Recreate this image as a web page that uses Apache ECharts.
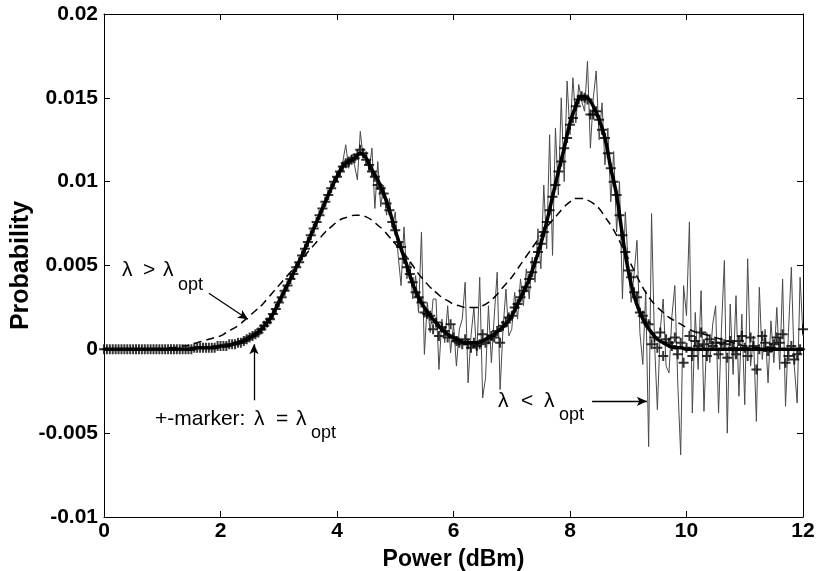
<!DOCTYPE html>
<html>
<head>
<meta charset="utf-8">
<script src="https://cdn.jsdelivr.net/npm/echarts@6/dist/echarts.min.js"></script>
<style>
  html, body { margin: 0; padding: 0; background: #fff; }
  #chart { width: 818px; height: 571px; }
</style>
</head>
<body>
<div id="chart"></div>
<script>
// x grids: fine for the +-markers and the noisy curve, coarse for the smooth ones
const fineStep = 0.05;
const coarseStep = 0.1;

// lambda = lambda_opt, smooth thick line (0.1 dBm step)
const probOpt = [
  0, 0, 0, 0, 0, 0, 0, 0, 0, 0,
  0, 0, 0, 0, 0, 0, 0.0001, 0.0001, 0.0001, 0.0001,
  0.0002, 0.0002, 0.0003, 0.0004, 0.0005, 0.0007, 0.0009, 0.0012, 0.0016, 0.0021,
  0.0028, 0.0035, 0.0042, 0.0049, 0.0056, 0.0064, 0.0072, 0.0080, 0.0088, 0.0096,
  0.0103, 0.0109, 0.0112, 0.0114, 0.0117, 0.0114, 0.0107, 0.0101, 0.0093, 0.0083,
  0.0071, 0.0060, 0.0050, 0.0039, 0.0031, 0.0025, 0.0020, 0.0016, 0.0012, 0.0009,
  0.0007, 0.0005, 0.0004, 0.0004, 0.0004, 0.0005, 0.0007, 0.0009, 0.0012, 0.0015,
  0.0020, 0.0027, 0.0034, 0.0042, 0.0052, 0.0063, 0.0076, 0.0091, 0.0106, 0.0120,
  0.0135, 0.0145, 0.0151, 0.0150, 0.0145, 0.0137, 0.0126, 0.0108, 0.0092, 0.0068,
  0.0047, 0.0032, 0.0022, 0.0015, 0.0010, 0.0006, 0.0004, 0.0002, 0.0001, 0.0001,
  0, 0, 0, 0, 0, 0, 0, 0, 0, 0,
  0, 0, 0, 0, 0, 0, 0, 0, 0, 0,
  0
];

// lambda > lambda_opt, dashed line (0.1 dBm step)
const probHigh = [
  0, 0, 0, 0, 0, 0, 0, 0, 0, 0,
  0, 0.0001, 0.0001, 0.0002, 0.0002, 0.0003, 0.0004, 0.0005, 0.0006, 0.0007,
  0.0008, 0.0010, 0.0012, 0.0014, 0.0017, 0.0020, 0.0023, 0.0026, 0.0030, 0.0034,
  0.0038, 0.0042, 0.0046, 0.0050, 0.0054, 0.0058, 0.0062, 0.0066, 0.0070, 0.0073,
  0.0076, 0.0078, 0.0079, 0.0080, 0.0080, 0.0079, 0.0077, 0.0074, 0.0071, 0.0067,
  0.0063, 0.0059, 0.0055, 0.0050, 0.0045, 0.0041, 0.0037, 0.0034, 0.0031, 0.0029,
  0.0027, 0.0026, 0.0025, 0.0025, 0.0025, 0.0026, 0.0028, 0.0031, 0.0035, 0.0039,
  0.0043, 0.0048, 0.0053, 0.0058, 0.0063, 0.0068, 0.0073, 0.0077, 0.0081, 0.0085,
  0.0088, 0.0090, 0.0090, 0.0089, 0.0087, 0.0084, 0.0079, 0.0074, 0.0068, 0.0061,
  0.0054, 0.0047, 0.0040, 0.0034, 0.0029, 0.0025, 0.0022, 0.0019, 0.0017, 0.0015,
  0.0013, 0.0011, 0.0010, 0.0009, 0.0008, 0.0007, 0.0006, 0.0005, 0.0004, 0.0003,
  0.0002, 0.0002, 0.0001, 0.0001, 0.0001, 0.0001, 0, 0, 0, 0,
  0
];

// lambda = lambda_opt, "+" markers (0.05 dBm step)
const probOptMarkers = [
  0, 0, 0, 0, 0, 0, 0, 0, 0, 0, 0, 0, 0, 0, 0, 0, 0, 0, 0, 0,
  0, 0, 0, 0, 0, 0, 0, 0, 0, 0, 0, 0.0001, 0.0001, 0.0001, 0.0001, 0.0001, 0.0001, 0.0001, 0.0001, 0.0002,
  0.0002, 0.0002, 0.0002, 0.0003, 0.0003, 0.0003, 0.0004, 0.0004, 0.0005, 0.0006, 0.0007, 0.0008, 0.0009, 0.0010, 0.0012, 0.0014, 0.0016, 0.0018, 0.0021, 0.0024,
  0.0028, 0.0031, 0.0035, 0.0038, 0.0042, 0.0045, 0.0049, 0.0052, 0.0056, 0.0060, 0.0064, 0.0068, 0.0072, 0.0076, 0.0080, 0.0084, 0.0088, 0.0092, 0.0096, 0.0100,
  0.0103, 0.0106, 0.0109, 0.0111, 0.0112, 0.0113, 0.0114, 0.0116, 0.0119, 0.0117, 0.0113, 0.0110, 0.0106, 0.0103, 0.0098, 0.0096, 0.0093, 0.0087, 0.0083, 0.0076,
  0.0071, 0.0064, 0.0061, 0.0054, 0.0049, 0.0045, 0.0040, 0.0034, 0.0031, 0.0028, 0.0022, 0.0021, 0.0020, 0.0012, 0.0016, 0.0008, 0.0013, 0.0011, 0.0007, 0.0015,
  0.0007, 0.0005, 0.0004, 0.0003, 0.0006, 0.0003, 0.0001, 0.0004, 0.0002, 0.0003, 0.0009, 0.0004, 0.0006, 0.0008, 0.0007, 0.0011, 0.0004, 0.0014, 0.0016, 0.0019,
  0.0020, 0.0025, 0.0027, 0.0031, 0.0035, 0.0037, 0.0042, 0.0046, 0.0052, 0.0058, 0.0063, 0.0070, 0.0076, 0.0083, 0.0091, 0.0098, 0.0106, 0.0112, 0.0120, 0.0126,
  0.0134, 0.0138, 0.0145, 0.0149, 0.0151, 0.0150, 0.0149, 0.0140, 0.0140, 0.0142, 0.0137, 0.0131, 0.0126, 0.0117, 0.0108, 0.0100, 0.0092, 0.0080, 0.0068, 0.0058,
  0.0047, 0.0043, 0.0034, 0.0031, 0.0022, 0.0020, 0.0016, 0.0015, 0.0003, 0.0007, 0.0001, 0.0010, -0.0004, 0.0006, 0.0004, 0.0002, 0.0007, -0.0003, 0.0004, -0.0008,
  0.0001, 0.0008, -0.0004, 0.0005, 0.0002, 0.0010, 0.0003, -0.0004, 0.0006, 0.0002, 0.0004, -0.0003, 0.0004, 0.0003, -0.0005, 0.0005, 0.0001, -0.0003, 0.0005, 0.0008,
  0.0001, -0.0004, 0.0007, 0.0002, -0.0012, 0.0000, 0.0008, 0.0004, -0.0001, 0.0001, 0.0003, 0.0007, 0.0004, 0.0009, -0.0008, -0.0004, 0.0002, -0.0006, -0.0003, 0.0000,
  0.0012
];

// lambda < lambda_opt, thin noisy line (0.05 dBm step)
const probLow = [
  0, 0, 0, 0, 0, 0, 0, 0, 0, 0, 0, 0, 0, 0, 0, 0, 0, 0, 0, 0,
  0, 0, 0, 0, 0, 0, 0, 0, 0, 0, 0, 0.0001, 0.0001, 0.0001, 0.0001, 0.0001, 0.0001, 0.0001, 0.0001, 0.0002,
  0.0002, 0.0002, 0.0002, 0.0003, 0.0003, 0.0003, 0.0004, 0.0004, 0.0005, 0.0006, 0.0007, 0.0008, 0.0009, 0.0010, 0.0012, 0.0014, 0.0016, 0.0018, 0.0021, 0.0024,
  0.0028, 0.0031, 0.0035, 0.0038, 0.0042, 0.0045, 0.0049, 0.0052, 0.0056, 0.0060, 0.0064, 0.0068, 0.0072, 0.0076, 0.0080, 0.0085, 0.0087, 0.0093, 0.0095, 0.0101,
  0.0104, 0.0108, 0.0112, 0.0122, 0.0108, 0.0116, 0.0110, 0.0101, 0.0130, 0.0114, 0.0118, 0.0106, 0.0120, 0.0084, 0.0112, 0.0085, 0.0098, 0.0080, 0.0090, 0.0072,
  0.0082, 0.0056, 0.0038, 0.0073, 0.0042, 0.0052, 0.0030, 0.0044, 0.0022, 0.0070, -0.0003, 0.0028, 0.0010, 0.0030, 0.0030, -0.0012, 0.0018, 0.0004, 0.0026, -0.0002,
  0.0015, -0.0010, 0.0012, 0.0018, 0.0040, -0.0020, 0.0008, 0.0025, -0.0004, 0.0043, -0.0029, -0.0017, 0.0026, -0.0008, 0.0020, 0.0046, -0.0024, 0.0012, 0.0036, 0.0008,
  0.0012, 0.0034, 0.0018, 0.0042, 0.0026, 0.0048, 0.0030, 0.0055, 0.0040, 0.0072, 0.0048, 0.0098, 0.0060, 0.0128, 0.0056, 0.0132, 0.0092, 0.0150, 0.0100, 0.0160,
  0.0128, 0.0162, 0.0135, 0.0158, 0.0148, 0.0142, 0.0172, 0.0120, 0.0150, 0.0166, 0.0125, 0.0147, 0.0110, 0.0132, 0.0088, 0.0118, 0.0070, 0.0100, 0.0030, 0.0082,
  0.0050, 0.0028, 0.0045, 0.0065, 0.0010, -0.0009, 0.0035, -0.0058, 0.0081, 0.0005, -0.0036, 0.0012, 0.0030, -0.0010, -0.0014, 0.0020, 0.0038, -0.0020, -0.0063, 0.0038,
  0.0020, 0.0076, -0.0038, 0.0022, -0.0012, 0.0035, -0.0037, 0.0010, -0.0008, 0.0015, 0.0026, -0.0038, 0.0012, 0.0053, -0.0050, 0.0027, -0.0015, 0.0032, -0.0028, 0.0021,
  -0.0033, 0.0054, -0.0010, 0.0008, -0.0043, 0.0037, -0.0006, 0.0012, -0.0020, 0.0017, -0.0008, 0.0025, -0.0012, 0.0042, -0.0034, 0.0010, 0.0049, -0.0010, -0.0032, 0.0043,
  0.0008
];

const xTicks = [0, 2, 4, 6, 8, 10, 12];

function withX(values, step) {
  return values.map((v, i) => [Math.round(i * step * 100) / 100, v]);
}

const labelFont = { fontFamily: 'Liberation Sans', fontWeight: 'bold', fontSize: 21, color: '#000' };
const plusPath = 'path://M4,0 H6 V4 H10 V6 H6 V10 H4 V6 H0 V4 H4 Z';

// annotation pieces: [text, x, y, size]
const annotations = [
  ['λ', 122, 270, 21], ['>', 143, 270, 21], ['λ', 163, 270, 21], ['opt', 178, 285, 18],
  ['+-marker:', 155, 419, 21], ['λ', 254, 419, 21], ['=', 276, 419, 21], ['λ', 296, 419, 21], ['opt', 311, 433, 18],
  ['λ', 498, 401, 21], ['<', 521, 401, 21], ['λ', 544, 401, 21], ['opt', 559, 415, 18]
];

const chart = echarts.init(document.getElementById('chart'));

const option = {
  animation: false,
  backgroundColor: '#fff',
  grid: { left: 104, right: 15, top: 14, bottom: 54, outerBoundsMode: 'none', containLabel: false },
  xAxis: [
    {
      type: 'value', min: xTicks[0], max: xTicks[xTicks.length - 1], interval: 2,
      name: 'Power (dBm)', nameLocation: 'middle', nameGap: 31, nameMoveOverlap: false,
      nameTextStyle: { fontFamily: 'Liberation Sans', fontWeight: 'bold', fontSize: 23, color: '#000' },
      axisLine: { onZero: false, lineStyle: { color: '#000', width: 1 } },
      axisTick: { inside: true, length: 6, lineStyle: { color: '#000' } },
      axisLabel: Object.assign({ margin: 4 }, labelFont),
      splitLine: { show: false }
    },
    {
      type: 'value', position: 'top', min: 0, max: 12, interval: 2,
      axisLine: { onZero: false, lineStyle: { color: '#000', width: 1 } },
      axisTick: { inside: true, length: 6, lineStyle: { color: '#000' } },
      axisLabel: { show: false },
      splitLine: { show: false }
    }
  ],
  yAxis: [
    {
      type: 'value', min: -0.01, max: 0.02, interval: 0.005,
      name: 'Probability', nameLocation: 'middle', nameGap: 70, nameMoveOverlap: false,
      nameTextStyle: { fontFamily: 'Liberation Sans', fontWeight: 'bold', fontSize: 25, color: '#000' },
      axisLine: { onZero: false, lineStyle: { color: '#000', width: 1 } },
      axisTick: { inside: true, length: 6, lineStyle: { color: '#000' } },
      axisLabel: Object.assign({ margin: 6, formatter: v => String(+v.toFixed(3)) }, labelFont),
      splitLine: { show: false }
    },
    {
      type: 'value', position: 'right', min: -0.01, max: 0.02, interval: 0.005,
      axisLine: { onZero: false, lineStyle: { color: '#000', width: 1 } },
      axisTick: { inside: true, length: 6, lineStyle: { color: '#000' } },
      axisLabel: { show: false },
      splitLine: { show: false }
    }
  ],
  series: [
    {
      name: 'λ < λopt', type: 'line', data: withX(probLow, fineStep),
      showSymbol: false, lineStyle: { color: '#4a4a4a', width: 1 }, z: 1,
      markLine: {
        silent: true, symbol: ['none', 'arrow'], symbolSize: [7, 10], label: { show: false },
        lineStyle: { color: '#000', width: 1.3, type: 'solid' },
        data: [
          [{ coord: [1.8, 0.00334] }, { coord: [2.47, 0.00179] }],
          [{ coord: [2.575, -0.00304] }, { coord: [2.575, 0.0003] }],
          [{ coord: [8.38, -0.0031] }, { coord: [9.32, -0.0031] }]
        ]
      }
    },
    {
      name: 'λ > λopt', type: 'line', data: withX(probHigh, coarseStep), smooth: true,
      showSymbol: false, lineStyle: { color: '#000', width: 1.5, type: [8, 5] }, z: 2
    },
    {
      name: 'λ = λopt', type: 'line', data: withX(probOpt, coarseStep), smooth: true,
      showSymbol: false, lineStyle: { color: '#000', width: 3.5 }, z: 3
    },
    {
      name: 'λ = λopt markers', type: 'scatter', data: withX(probOptMarkers, fineStep),
      symbol: plusPath, symbolSize: 10, itemStyle: { color: '#000' }, z: 4
    }
  ],
  graphic: annotations.map(([t, x, y, size]) => ({
    type: 'text', x: x, y: y, silent: true,
    style: { text: t, font: size + 'px "Liberation Sans"', fill: '#000', verticalAlign: 'middle' }
  }))
};

chart.setOption(option);
</script>
</body>
</html>
